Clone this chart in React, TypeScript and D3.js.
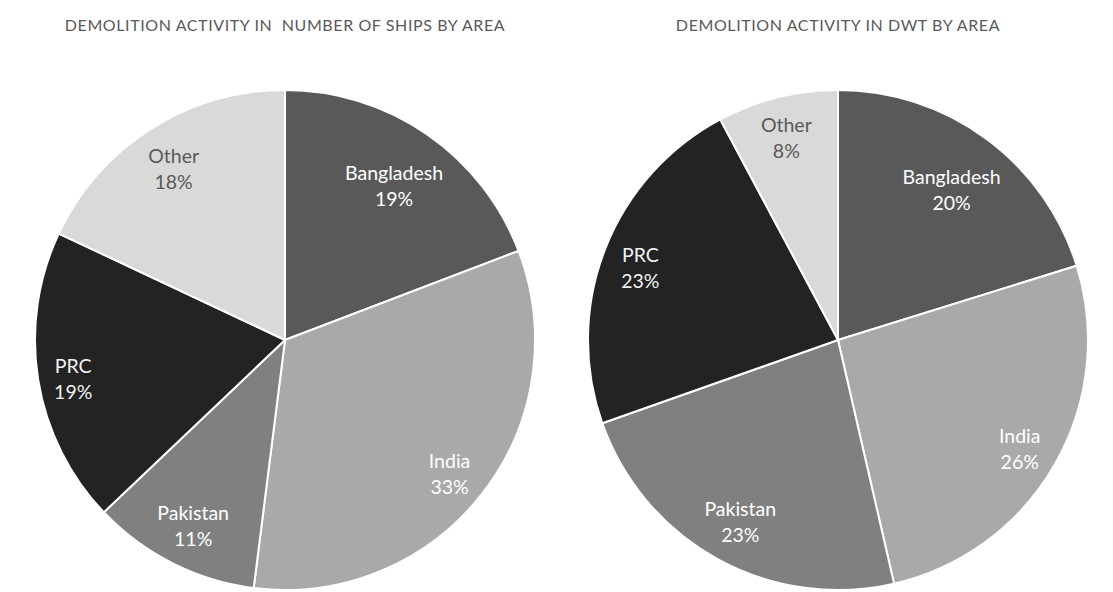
import React, { useEffect, useRef } from "react";
import * as d3 from "d3";

// categories, shared by both pies
const areas = ["Bangladesh", "India", "Pakistan", "PRC", "Other"];
// share of ships (count), percent
const shipsShare = [19.2, 32.8, 10.9, 19.1, 18.0];
// share of dwt, percent
const dwtShare = [20.2, 26.2, 23.2, 22.6, 7.8];

const titles = [
  "DEMOLITION ACTIVITY IN  NUMBER OF SHIPS BY AREA",
  "DEMOLITION ACTIVITY IN DWT BY AREA",
];

const sliceColors = ["#595959", "#a9a9a9", "#808080", "#232323", "#d9d9d9"];
const labelColors = ["#ffffff", "#ffffff", "#ffffff", "#f2f2f2", "#595959"];

const FONT = "Lato, 'Open Sans', sans-serif";

const App = () => {
  const svgRef = useRef<SVGSVGElement>(null);

  useEffect(() => {
    const svg = d3.select(svgRef.current);
    svg.selectAll("*").remove();

    const width = 1113;
    const height = 592;
    const radius = 250;
    const centers = [
      { x: 285, y: 340 },
      { x: 838, y: 340 },
    ];
    const datasets = [shipsShare, dwtShare];

    svg.attr("width", width).attr("height", height);

    const pie = d3
      .pie<number>()
      .sort(null)
      .value((d) => d);

    const arc = d3
      .arc<d3.PieArcDatum<number>>()
      .innerRadius(0)
      .outerRadius(radius);

    datasets.forEach((values, k) => {
      const c = centers[k];

      // title
      svg
        .append("text")
        .attr("x", c.x)
        .attr("y", 31)
        .attr("text-anchor", "middle")
        .attr("font-family", FONT)
        .attr("font-size", "16px")
        .attr("letter-spacing", "0.6px")
        .attr("fill", "#595959")
        .style("white-space", "pre")
        .text(titles[k]);

      const g = svg
        .append("g")
        .attr("transform", `translate(${c.x}, ${c.y})`);

      const arcs = pie(values);

      g.selectAll("path")
        .data(arcs)
        .join("path")
        .attr("d", arc)
        .attr("fill", (d, i) => sliceColors[i])
        .attr("stroke", "#ffffff")
        .attr("stroke-width", 2)
        .attr("stroke-linejoin", "round");

      // labels: name + rounded percentage, near the outer end of the slice
      const total = d3.sum(values);
      const labels = g
        .selectAll("g.label")
        .data(arcs)
        .join("g")
        .attr("class", "label");

      labels.each(function (d, i) {
        const t = d3
          .select(this)
          .append("text")
          .attr("text-anchor", "middle")
          .attr("font-family", FONT)
          .attr("font-size", "19.5px")
          .attr("fill", labelColors[i]);
        t.append("tspan").attr("x", 0).attr("dy", "-0.25em").text(areas[i]);
        t.append("tspan")
          .attr("x", 0)
          .attr("dy", "1.33em")
          .text(`${Math.round((d.value / total) * 100)}%`);
      });

      labels.attr("transform", function (d) {
        const box = (this as SVGGElement).getBBox();
        // excel lets the text box poke out vertically a bit, so only part of the height counts
        const w = box.width + 6;
        const h = box.height * 0.8;
        const cy0 = box.y + box.height / 2;
        const a = (d.startAngle + d.endAngle) / 2;
        const ux = Math.sin(a);
        const uy = -Math.cos(a);
        const far = (r: number) =>
          Math.hypot(
            r * ux + Math.sign(ux) * (w / 2),
            r * uy + Math.sign(uy) * (h / 2)
          );
        let lo = 0;
        let hi = radius;
        for (let n = 0; n < 40; n++) {
          const mid = (lo + hi) / 2;
          if (far(mid) < radius - 10) lo = mid;
          else hi = mid;
        }
        const r = Math.min(lo, radius * 0.865);
        // nudge down a little, the text sits low in excel's label box
        return `translate(${r * ux}, ${r * uy - cy0 + 4})`;
      });
    });
  }, []);

  return (
    <div style={{ position: "absolute", left: 0, top: 0 }}>
      <svg ref={svgRef} style={{ display: "block" }} />
    </div>
  );
};

export default App;
